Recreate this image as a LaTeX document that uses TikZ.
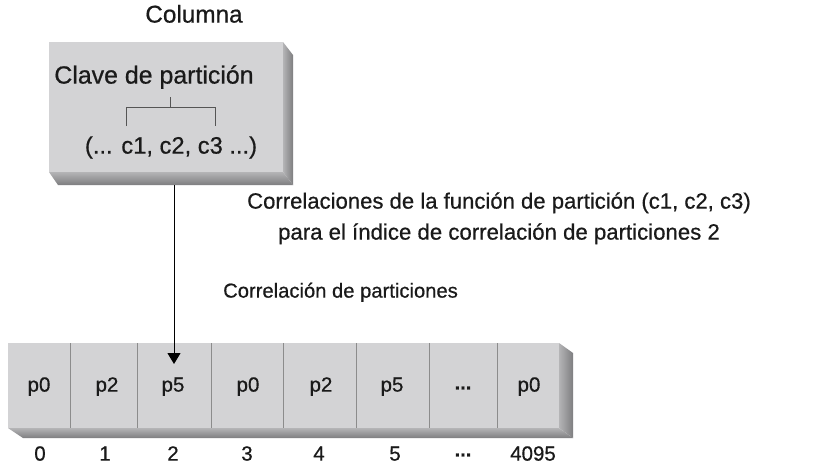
\documentclass[tikz,border=0pt]{standalone}
\usepackage{fontspec}
\setmainfont{Liberation Sans}[FakeBold=0.6]
\usetikzlibrary{arrows.meta}
\definecolor{face}{HTML}{D3D3D5}
\definecolor{sidedark}{HTML}{7E7E80}
\definecolor{sidelight}{HTML}{B4B4B6}
\definecolor{divider}{HTML}{8C8C8C}
\definecolor{bracket}{HTML}{555555}
\definecolor{txt}{HTML}{1A1A1A}
\newcommand{\fsz}[1]{\fontsize{#1}{#1}\selectfont}
\begin{document}
\begin{tikzpicture}[x=1pt,y=-1pt,
  lbl/.style={text=txt, inner sep=0pt, text height=0.72em, text depth=0pt},
  cell/.style={text=txt, font=\fsz{20.5}, inner sep=0pt, text height=0.72em, text depth=0pt},
  dots/.style={text=txt, font=\fsz{20}\bfseries, inner sep=0pt},
  conn/.style={line width=1pt, -{Triangle[width=13pt,length=11pt]}}]
\useasboundingbox (0,0) rectangle (814,471);
\fill[white] (0,0) rectangle (814,471);
% top box
\fill[face] (49,42) rectangle (283,172);
\shade[left color=sidelight, right color=sidedark] (283,42) -- (293,55) -- (293,185) -- (283,172) -- cycle;
\shade[top color=sidelight, bottom color=sidedark] (49,172) -- (283,172) -- (293,185) -- (58,185) -- cycle;
\node[lbl, font=\fsz{24.3}] (col) at (194,19) {Columna};
\node[lbl, font=\fsz{24.9}] (clave) at (154,80) {Clave de partición};
\node[lbl, font=\fsz{23.7}] (cols) at (171,150) {(... c1, c2, c3 ...)};
\draw[bracket, line width=0.9pt] (170,97) -- (170,107) (126,126) -- (126,107) -- (215,107) -- (215,126);
\coordinate (boxbot) at (174,185);
% strip
\fill[face] (8,343) rectangle (559,428);
\shade[left color=sidelight, right color=sidedark] (559,343) -- (573,353) -- (573,438) -- (559,428) -- cycle;
\shade[top color=sidelight, bottom color=sidedark] (8,428) -- (559,428) -- (573,438) -- (23,438) -- cycle;
\foreach \x in {70,137,211,283,356,429,497}{\draw[divider, line width=0.8pt] (\x,343) -- (\x,428);}
\node[cell] (c0) at (39,388) {p0};
\node[cell] (c1) at (107,388) {p2};
\node[cell] (c2) at (173,388) {p5};
\node[cell] (c3) at (248,388) {p0};
\node[cell] (c4) at (321,388) {p2};
\node[cell] (c5) at (392,388) {p5};
\node[dots] (c6) at (463,388) {...};
\node[cell] (c7) at (529,388) {p0};
\node[cell] (i0) at (40,457) {0};
\node[cell] (i1) at (105,457) {1};
\node[cell] (i2) at (173,457) {2};
\node[cell] (i3) at (247,457) {3};
\node[cell] (i4) at (319,457) {4};
\node[cell] (i5) at (395,457) {5};
\node[dots] (i6) at (463,455) {...};
\node[cell] (i7) at (533,457) {4095};
\coordinate (tip) at (174,364);
\draw[conn] (boxbot) -- (tip);
% right labels
\node[lbl, font=\fsz{22.1}] (l1) at (499,205) {Correlaciones de la función de partición (c1, c2, c3)};
\node[lbl, font=\fsz{22.2}] (l2) at (499,236) {para el índice de correlación de particiones 2};
\node[lbl, font=\fsz{20.2}, anchor=west] (l3) at (223,294) {Correlación de particiones};
\end{tikzpicture}
\end{document}
